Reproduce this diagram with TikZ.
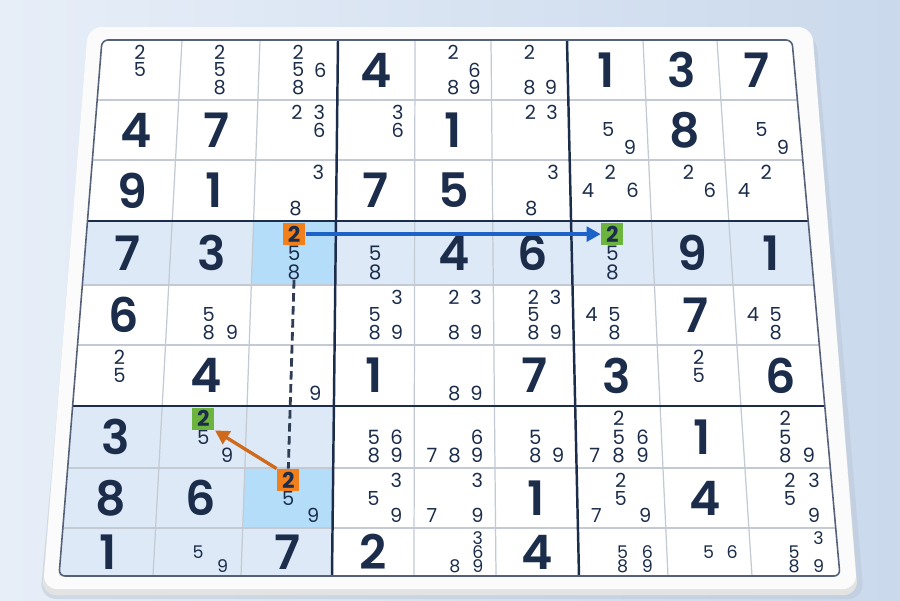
\documentclass[tikz,border=0pt]{standalone}
\usepackage{fontspec}
\setmainfont{Poppins}
\IfFontExistsTF{Poppins SemiBold}{\newfontfamily\givenfont{Poppins SemiBold}}{\newfontfamily\givenfont{Poppins}[FakeBold=1.2]}
\usetikzlibrary{positioning, arrows.meta}
\definecolor{ink}{HTML}{1B2D4B}
\definecolor{bgl}{HTML}{E7EEF8}
\definecolor{bgr}{HTML}{CAD9EC}
\definecolor{thinln}{HTML}{C3CAD3}
\definecolor{rowhl}{HTML}{DDE9F6}
\definecolor{cellhl}{HTML}{B4DDF9}
\definecolor{orbox}{HTML}{F07F1C}
\definecolor{grbox}{HTML}{6DB43E}
\definecolor{bluearr}{HTML}{1C62C8}
\definecolor{orarr}{HTML}{CF6A1C}
\tikzset{
	given/.style={text=ink, font=\givenfont\fontsize{13.5}{14}\selectfont, inner sep=0pt}, % solved digits
	cand/.style={text=ink, inner sep=0pt}, % pencil marks
	badge/.style={minimum size=0.22cm, inner sep=0pt, text=ink, font=\bfseries\fontsize{6.2}{7}\selectfont}, % marked 2s
	thin line/.style={draw=thinln, line width=0.35pt},
	box line/.style={draw=ink, line width=0.7pt},
	link/.style={-{Triangle[length=4pt,width=4.2pt]}, line width=0.95pt},
}
% grid lines in pixels: top ends, bottom ends, rows
\def\xtop{{102,182,260,338,415,491,567,643,717,792}}
\def\xbot{{59,153,241,332,414,496,579,668,752,840}}
\def\yrow{{40,100,160,221,285,345,406,468,528,576}}
% corners and centre of cell (#1 = column, #2 = row)
\newcommand\cellgeo[2]{%
	\pgfmathsetmacro\gya{\yrow[#2]}%
	\pgfmathsetmacro\gyb{\yrow[#2+1]}%
	\pgfmathsetmacro\gta{(\gya-40)/536}%
	\pgfmathsetmacro\gtb{(\gyb-40)/536}%
	\pgfmathsetmacro\gxa{\xtop[#1]+\gta*(\xbot[#1]-\xtop[#1])}%
	\pgfmathsetmacro\gxb{\xtop[#1+1]+\gta*(\xbot[#1+1]-\xtop[#1+1])}%
	\pgfmathsetmacro\gxc{\xtop[#1+1]+\gtb*(\xbot[#1+1]-\xtop[#1+1])}%
	\pgfmathsetmacro\gxd{\xtop[#1]+\gtb*(\xbot[#1]-\xtop[#1])}%
	\pgfmathsetmacro\gcx{(\gxa+\gxb+\gxc+\gxd)/4}%
	\pgfmathsetmacro\gcy{(\gya+\gyb)/2}%
	\pgfmathsetmacro\gcw{(\gxb+\gxc-\gxa-\gxd)/2}%
	\pgfmathsetmacro\gch{\gyb-\gya}%
	\pgfmathsetmacro\gfs{5.6*(0.5+0.5*\gch/62)}%
}
\newcommand\cellfill[3]{\cellgeo{#1}{#2}\fill[#3] (\gxa,\gya) -- (\gxb,\gya) -- (\gxc,\gyb) -- (\gxd,\gyb) -- cycle;}

\begin{document}
\begin{tikzpicture}[x=0.01cm, y=-0.01cm]
	\useasboundingbox (0,0) rectangle (900,600);
	\shade[left color=bgl, right color=bgr] (0,0) rectangle (900,600);
	% board
	\fill[bgr!80!gray, opacity=.5, rounded corners=0.16cm] (92,34) -- (816,34) -- (864,599) -- (40,599) -- cycle;
	\fill[gray!22, rounded corners=0.14cm] (88,30) -- (812,30) -- (858,595) -- (42,595) -- cycle;
	\fill[white!97!gray, rounded corners=0.14cm] (88,27) -- (812,27) -- (857,589) -- (43,589) -- cycle;
	\fill[white, rounded corners=0.06cm] (102,40) -- (792,40) -- (840,576) -- (59,576) -- cycle;
	% highlighted row, box and cells
	\foreach \c in {0,...,8} {\cellfill{\c}{3}{rowhl}}
	\foreach \c in {0,1,2} \foreach \r in {6,7,8} {\cellfill{\c}{\r}{rowhl}}
	\cellfill{2}{3}{cellhl}
	\cellfill{2}{7}{cellhl}
	% grid
	\foreach \r in {1,2,4,5,7,8} {
		\pgfmathsetmacro\gy{\yrow[\r]}\pgfmathsetmacro\gt{(\gy-40)/536}
		\pgfmathsetmacro\gl{\xtop[0]+\gt*(\xbot[0]-\xtop[0])}\pgfmathsetmacro\gr{\xtop[9]+\gt*(\xbot[9]-\xtop[9])}
		\draw[thin line] (\gl,\gy) -- (\gr,\gy);
	}
	\foreach \c in {1,2,4,5,7,8} {
		\pgfmathsetmacro\gu{\xtop[\c]}\pgfmathsetmacro\gv{\xbot[\c]}
		\draw[thin line] (\gu,40) -- (\gv,576);
	}
	\foreach \r in {3,6} {
		\pgfmathsetmacro\gy{\yrow[\r]}\pgfmathsetmacro\gt{(\gy-40)/536}
		\pgfmathsetmacro\gl{\xtop[0]+\gt*(\xbot[0]-\xtop[0])}\pgfmathsetmacro\gr{\xtop[9]+\gt*(\xbot[9]-\xtop[9])}
		\draw[box line] (\gl,\gy) -- (\gr,\gy);
	}
	\foreach \c in {3,6} {
		\pgfmathsetmacro\gu{\xtop[\c]}\pgfmathsetmacro\gv{\xbot[\c]}
		\draw[box line] (\gu,40) -- (\gv,576);
	}
	\draw[ink!75, line width=0.45pt, rounded corners=0.06cm] (102,40) -- (792,40) -- (840,576) -- (59,576) -- cycle;
	% solved digits
	\foreach \c/\r/\d in {3/0/4, 6/0/1, 7/0/3, 8/0/7, 0/1/4, 1/1/7, 4/1/1, 7/1/8,
		0/2/9, 1/2/1, 3/2/7, 4/2/5, 0/3/7, 1/3/3, 4/3/4, 5/3/6, 7/3/9, 8/3/1,
		0/4/6, 7/4/7, 1/5/4, 3/5/1, 5/5/7, 6/5/3, 8/5/6, 0/6/3, 7/6/1,
		0/7/8, 1/7/6, 5/7/1, 7/7/4, 0/8/1, 2/8/7, 3/8/2, 5/8/4}
		{\cellgeo{\c}{\r}\node[given] (g-\c-\r) at (\gcx,\gcy) {\d};}
	% pencil marks
	\foreach \c/\r/\ks in {0/0/{2,5}, 1/0/{2,5,8}, 2/0/{2,5,6,8}, 4/0/{2,6,8,9}, 5/0/{2,8,9},
		2/1/{2,3,6}, 3/1/{3,6}, 5/1/{2,3}, 6/1/{5,9}, 8/1/{5,9},
		2/2/{3,8}, 5/2/{3,8}, 6/2/{2,4,6}, 7/2/{2,6}, 8/2/{2,4},
		2/3/{5,8}, 3/3/{5,8}, 6/3/{5,8},
		1/4/{5,8,9}, 3/4/{3,5,8,9}, 4/4/{2,3,8,9}, 5/4/{2,3,5,8,9}, 6/4/{4,5,8}, 8/4/{4,5,8},
		0/5/{2,5}, 2/5/{9}, 4/5/{8,9}, 7/5/{2,5},
		1/6/{5,9}, 3/6/{5,6,8,9}, 4/6/{6,7,8,9}, 5/6/{5,8,9}, 6/6/{2,5,6,7,8,9}, 8/6/{2,5,8,9},
		2/7/{5,9}, 3/7/{3,5,9}, 4/7/{3,7,9}, 6/7/{2,5,7,9}, 8/7/{2,3,5,9},
		1/8/{5,9}, 4/8/{3,6,8,9}, 6/8/{5,6,8,9}, 7/8/{5,6}, 8/8/{3,5,8,9}}
	{
		\cellgeo{\c}{\r}
		\foreach \k in \ks {
			\pgfmathsetmacro\kx{\gcx+(mod(\k-1,3)-1)*0.28*\gcw}
			\pgfmathsetmacro\ky{\gcy+(floor((\k-1)/3)-1)*0.295*\gch}
			\node[cand, font=\fontsize{\gfs}{7}\selectfont] (n-\c-\r-\k) at (\kx,\ky) {\k};
		}
	}
	% marked candidates
	\cellgeo{2}{3}\pgfmathsetmacro\bya{\gcy-0.295*\gch}
	\node[badge, fill=orbox] (o1) at (\gcx,\bya) {2};
	\cellgeo{6}{3}\pgfmathsetmacro\bya{\gcy-0.295*\gch}
	\node[badge, fill=grbox] (g1) at (\gcx,\bya) {2};
	\cellgeo{2}{7}\pgfmathsetmacro\bya{\gcy-0.295*\gch}
	\node[badge, fill=orbox] (o2) at (\gcx,\bya) {2};
	\cellgeo{1}{6}\pgfmathsetmacro\bya{\gcy-0.295*\gch}
	\node[badge, fill=grbox] (g2) at (\gcx,\bya) {2};
	% links
	\draw[link, bluearr] (o1.east) -- (g1.west);
	\draw[ink!80!gray, line width=0.8pt, dash pattern=on 2.4pt off 1.3pt] (n-2-3-8.south) -- (o2.north);
	\draw[link, orarr] (o2.north west) -- (g2.south east);
\end{tikzpicture}
\end{document}
